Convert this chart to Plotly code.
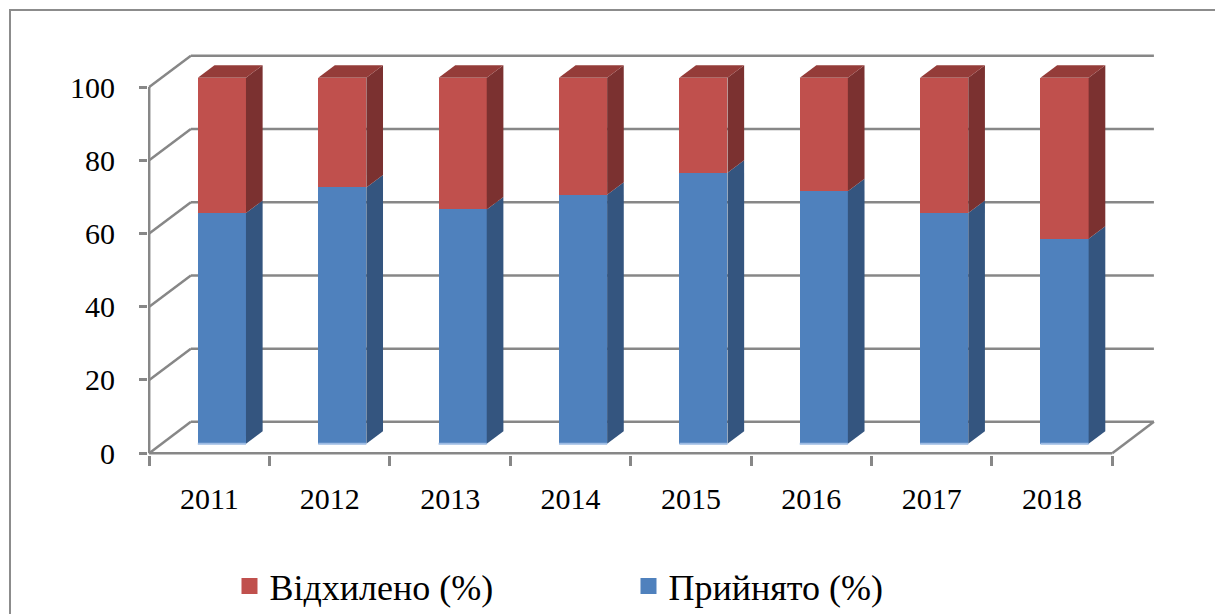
import plotly.graph_objects as go

# ---- data ----
years = ["2011", "2012", "2013", "2014", "2015", "2016", "2017", "2018"]
accepted = [63, 70, 64, 68, 74, 69, 63, 56]      # Прийнято (%)
rejected = [37, 30, 36, 32, 26, 31, 37, 44]      # Відхилено (%)
y_ticks = [0, 20, 40, 60, 80, 100]
name_rej = "Відхилено (%)"
name_acc = "Прийнято (%)"

# ---- pseudo-3D projection settings (in axis units) ----
DX, DY = 0.346, 8.55      # offset of back wall relative to front plane
D0, D1 = 0.30, 0.70       # bar front / back depth
HW = 0.20                 # half bar width
N = len(years)

C_BLUE, C_BLUE_SIDE = "#4F81BD", "#34557F"
C_RED, C_RED_SIDE, C_RED_TOP = "#C0504D", "#7B3130", "#943C39"
C_GRID = "#878787"
FONT = "Liberation Serif, Times New Roman, Times, DejaVu Serif, serif"

fig = go.Figure()

# front faces as bars
xc = [i + 0.5 + D0 * DX for i in range(N)]
fig.add_trace(go.Bar(x=xc, y=accepted, base=[D0 * DY] * N, width=2 * HW,
                     marker=dict(color=C_BLUE, line=dict(width=0)),
                     showlegend=False, hoverinfo="skip"))
fig.add_trace(go.Bar(x=xc, y=rejected, base=[D0 * DY + a for a in accepted], width=2 * HW,
                     marker=dict(color=C_RED, line=dict(width=0)),
                     showlegend=False, hoverinfo="skip"))

def poly(xs, ys, color):
    fig.add_trace(go.Scatter(x=xs + [xs[0]], y=ys + [ys[0]], mode="lines", fill="toself",
                             fillcolor=color, line=dict(width=0, color=color),
                             showlegend=False, hoverinfo="skip"))

ddx, ddy = (D1 - D0) * DX, (D1 - D0) * DY
for i in range(N):
    xl = i + 0.5 - HW + D0 * DX
    xr = i + 0.5 + HW + D0 * DX
    a = accepted[i]
    top = accepted[i] + rejected[i]
    b = D0 * DY
    poly([xr, xr + ddx, xr + ddx, xr], [b, b + ddy, b + a + ddy, b + a], C_BLUE_SIDE)
    poly([xr, xr + ddx, xr + ddx, xr], [b + a, b + a + ddy, b + top + ddy, b + top], C_RED_SIDE)
    poly([xl, xr, xr + ddx, xl + ddx], [b + top, b + top, b + top + ddy, b + top + ddy], C_RED_TOP)
    fig.add_trace(go.Scatter(x=[xl, xr], y=[b, b], mode="lines",
                             line=dict(color="#9DBBE3", width=2),
                             showlegend=False, hoverinfo="skip"))

# legend-only entries
fig.add_trace(go.Scatter(x=[None], y=[None], mode="markers", name=name_rej,
                         marker=dict(symbol="square", size=16, color=C_RED)))
fig.add_trace(go.Scatter(x=[None], y=[None], mode="markers", name=name_acc,
                         marker=dict(symbol="square", size=16, color=C_BLUE)))

# ---- 3D scaffolding (walls, floor) ----
shapes = []
ln = dict(color=C_GRID, width=2.5)
for v in y_ticks:
    shapes.append(dict(type="line", xref="x", yref="y", x0=DX, y0=v + DY, x1=N + DX, y1=v + DY,
                       line=ln, layer="below"))
    shapes.append(dict(type="line", xref="x", yref="y", x0=0, y0=v, x1=DX, y1=v + DY,
                       line=ln, layer="below"))
shapes.append(dict(type="line", xref="x", yref="y", x0=0, y0=0, x1=N, y1=0, line=ln, layer="below"))
shapes.append(dict(type="line", xref="x", yref="y", x0=N, y0=0, x1=N + DX, y1=DY, line=ln, layer="below"))
shapes.append(dict(type="line", xref="x", yref="y", x0=0, y0=0, x1=0, y1=100, line=ln, layer="below"))

W, H = 1215, 606
L, T, R, B = 140, 45, 65, 159
pw, ph = W - L - R, H - T - B
# outer chart border (2px from figure top-left)
shapes.append(dict(type="rect", xref="paper", yref="paper",
                   x0=(2 - L) / pw, y0=-1.0, x1=1.3, y1=(H - B - 2) / ph,
                   line=dict(color="#8C8C8C", width=2), layer="below"))

fig.update_layout(
    width=W, height=H,
    margin=dict(l=L, r=R, t=T, b=B, autoexpand=False),
    paper_bgcolor="white", plot_bgcolor="white",
    barmode="overlay", bargap=0,
    shapes=shapes,
    font=dict(family=FONT, color="black"),
    showlegend=True,
    legend=dict(orientation="h", xref="container", yref="container",
                x=0.1823, y=0.046, xanchor="left", yanchor="middle",
                font=dict(family=FONT, size=36, color="black"),
                entrywidth=354, entrywidthmode="pixels", itemsizing="trace",
                bgcolor="rgba(0,0,0,0)"),
    xaxis=dict(range=[-0.01, 8.38], showgrid=False, zeroline=False, showline=False,
               tickmode="array", tickvals=[i + 0.5 for i in range(N)], ticktext=years,
               ticks="", tickfont=dict(family=FONT, size=30, color="black"),
               ticklabelstandoff=23, automargin=False,
               minor=dict(tickmode="array", tickvals=list(range(N + 1)), ticks="outside",
                          ticklen=10, tickwidth=2.5, tickcolor=C_GRID, showgrid=False)),
    yaxis=dict(range=[-0.5, 109.3], showgrid=False, zeroline=False, showline=False,
               tickmode="array", tickvals=y_ticks, ticks="outside", ticklen=8,
               tickwidth=2.5, tickcolor=C_GRID,
               tickfont=dict(family=FONT, size=30, color="black"),
               ticklabelstandoff=18, automargin=False),
)

fig.write_html("out.html")
